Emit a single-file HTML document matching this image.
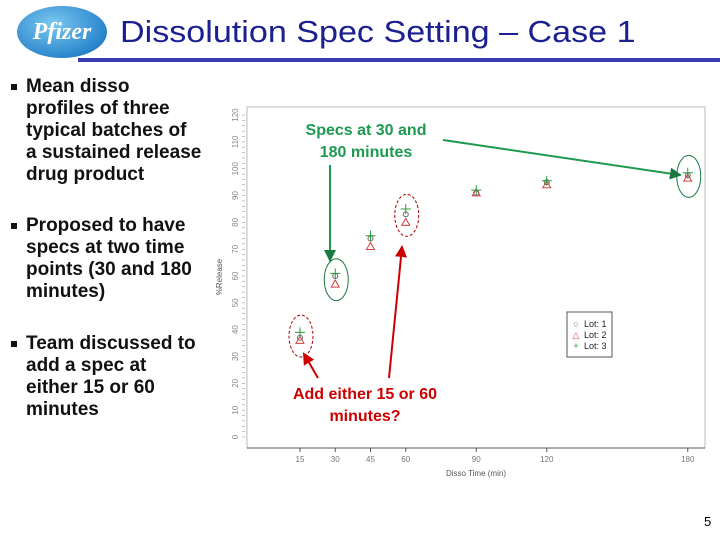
<!DOCTYPE html>
<html><head><meta charset="utf-8"><style>
body{margin:0;width:720px;height:540px;background:#fff;overflow:hidden;position:relative;font-family:"Liberation Sans",Arial,sans-serif}
.t{position:absolute}
ul{position:absolute;left:8px;margin:0;padding:0;list-style:none;font-weight:bold;font-size:19px;line-height:22px;color:#111;white-space:nowrap}
li{position:relative;padding-left:18px}
li:before{content:"";position:absolute;left:3px;top:8px;width:6px;height:6px;background:#111}
</style></head><body>
<div class="t" style="left:17px;top:6px;width:90px;height:52px;border-radius:50%;background:radial-gradient(ellipse at 40% 35%,#7cc8f0,#2a86cc 70%,#1560a8);color:#fff;font:italic bold 24px 'Liberation Serif',serif;text-align:center;line-height:52px">Pfizer</div>
<div class="t" style="left:120px;top:14px;font-size:31px;color:#1b1f8f;white-space:nowrap;transform:scaleX(1.1);transform-origin:0 0">Dissolution Spec Setting – Case 1</div>
<div class="t" style="left:78px;top:58px;width:642px;height:4px;background:#3b3bb0"></div>
<ul style="top:76px"><li>Mean disso<br>profiles of three<br>typical batches of<br>a sustained release<br>drug product</li></ul>
<ul style="top:215px"><li>Proposed to have<br>specs at two time<br>points (30 and 180<br>minutes)</li></ul>
<ul style="top:333px"><li>Team discussed to<br>add a spec at<br>either 15 or 60<br>minutes</li></ul>
<svg id="c" class="t" style="left:0;top:0" width="720" height="540"></svg>
<div class="t" style="left:704px;top:514px;font-size:13px">5</div>
<script>
const times=[15,30,45,60,90,120,180];
const lot1=[37,60,74,83,91,95,97.5];
const lot2=[36,57,71,80,91,94,96.5];
const lot3=[39,61,75,85,92,95.5,98.5];
const yTicks=[0,10,20,30,40,50,60,70,80,90,100,110,120];
const NS='http://www.w3.org/2000/svg';
const svg=document.getElementById('c');
const X=t=>300+(t-15)*2.35, Y=v=>437-v*2.683;
function el(tag,a,p){const e=document.createElementNS(NS,tag);for(const k in a)e.setAttribute(k,a[k]);(p||svg).appendChild(e);return e;}
let f=el('rect',{x:247,y:107,width:458,height:341,fill:'none',stroke:'#bbb'});

let xa=el('line',{x1:247,y1:448,x2:705,y2:448,stroke:'#555'});

times.forEach(t=>{el('line',{x1:X(t),y1:448,x2:X(t),y2:452,stroke:'#555'});
 const tx=el('text',{x:X(t),y:462,'font-size':8,fill:'#777','text-anchor':'middle'});tx.textContent=t;
 });
yTicks.forEach(v=>{const tx=el('text',{x:238,y:Y(v),'font-size':8,fill:'#888','text-anchor':'middle',transform:`rotate(-90 238 ${Y(v)})`});tx.textContent=v;
 });
for(let v=0;v<=120;v+=2)el('line',{x1:242,y1:Y(v),x2:245,y2:Y(v),stroke:'#999','stroke-width':0.6});
let xt=el('text',{x:476,y:476,'font-size':8,fill:'#555','text-anchor':'middle'});xt.textContent='Disso Time (min)';

let yt=el('text',{x:222,y:277,'font-size':8,fill:'#555','text-anchor':'middle',transform:'rotate(-90 222 277)'});yt.textContent='%Release';

[[15,38,'#a00','3 2'],[30,59,'#197a40',''],[60,83,'#a00','3 2'],[180,97.5,'#197a40','']].forEach(([t,v,c,d])=>{
 const e=el('ellipse',{cx:X(t)+1,cy:Y(v)+1,rx:12,ry:21,fill:'none',stroke:c,'stroke-width':1,'stroke-dasharray':d});
 });
times.forEach((t,i)=>{
 let c=el('circle',{cx:X(t),cy:Y(lot1[i]),r:2.5,fill:'none',stroke:'#666'});
 
 let x=X(t),y=Y(lot2[i]);
 let p=el('path',{d:`M${x-4} ${y+3}L${x} ${y-4}L${x+4} ${y+3}Z`,fill:'none',stroke:'#d04040'});
 
 y=Y(lot3[i]);
 let q=el('path',{d:`M${x-5} ${y}H${x+5}M${x} ${y-5}V${y+5}`,stroke:'#2a9a3a'});
 
});
let lg=el('rect',{x:567,y:312,width:45,height:45,fill:'#fff',stroke:'#555'});

[['Lot: 1','#666'],['Lot: 2','#d04040'],['Lot: 3','#2a9a3a']].forEach(([s,c],i)=>{
 const y=324+i*11;const t=el('text',{x:584,y:y+3,'font-size':9,fill:'#222'});t.textContent=s;
 
 el('text',{x:576,y:y+3,'font-size':9,fill:c,'text-anchor':'middle'}).textContent=['○','△','+'][i];
});
el('defs',{}).innerHTML='<marker id="g" markerWidth="6" markerHeight="6" refX="5" refY="3" orient="auto"><path d="M0 0L6 3L0 6Z" fill="#197a40"/></marker><marker id="r" markerWidth="6" markerHeight="6" refX="5" refY="3" orient="auto"><path d="M0 0L6 3L0 6Z" fill="#c00"/></marker>';
el('line',{x1:443,y1:140,x2:680,y2:175,stroke:'#1e9a50','stroke-width':2,'marker-end':'url(#g)'});
el('line',{x1:330,y1:165,x2:330,y2:260,stroke:'#1e9a50','stroke-width':2,'marker-end':'url(#g)'});
el('line',{x1:389,y1:378,x2:402,y2:247,stroke:'#c00','stroke-width':2,'marker-end':'url(#r)'});
el('line',{x1:318,y1:378,x2:304,y2:354,stroke:'#c00','stroke-width':2,'marker-end':'url(#r)'});
[['Specs at 30 and',366,135,'#1e9a50'],['180 minutes',366,157,'#1e9a50'],['Add either 15 or 60',365,399,'#c00'],['minutes?',365,421,'#c00']].forEach(([s,x,y,c])=>{
 const t=el('text',{x,y,'font-size':16,'font-weight':'bold',fill:c,'text-anchor':'middle'});t.textContent=s;
 });
</script>
</body></html>
